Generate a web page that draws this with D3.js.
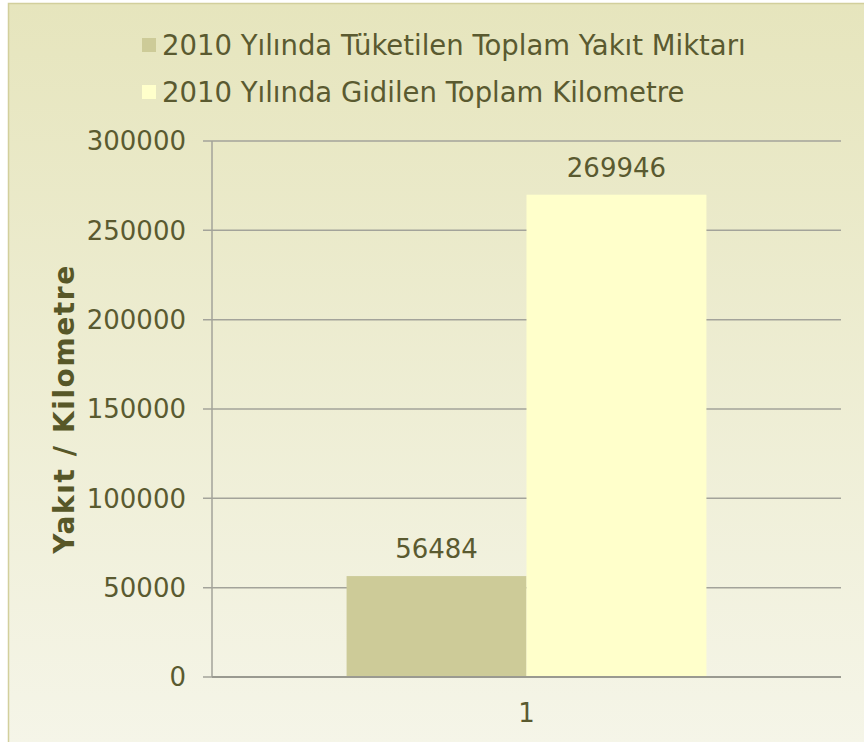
<!DOCTYPE html>
<meta charset="utf-8">
<style>
body { margin: 0; background: #fff; }
text { font-family: "DejaVu Sans", Verdana, sans-serif; fill: #5a5a30; }
.grid line { stroke: #a3a39a; stroke-width: 1.5px; }
</style>
<svg width="864" height="742"></svg>
<script src="https://d3js.org/d3.v7.min.js"></script>
<script>

var categories = ["1"];
var seriesNames = ["2010 Yılında Tüketilen Toplam Yakıt Miktarı", "2010 Yılında Gidilen Toplam Kilometre"];
var seriesColors = ["#cdcb98", "#ffffcb"];
var values = [[56484], [269946]];
var yTicks = [0, 50000, 100000, 150000, 200000, 250000, 300000];

var svg = d3.select("svg"),
    width = +svg.attr("width"),
    height = +svg.attr("height");

// background gradient
var defs = svg.append("defs");
var grad = defs.append("linearGradient")
    .attr("id", "bg")
    .attr("x1", 0).attr("y1", 0).attr("x2", 0).attr("y2", 1);
grad.append("stop").attr("offset", "0%").attr("stop-color", "#e6e5bd");
grad.append("stop").attr("offset", "100%").attr("stop-color", "#f5f5e8");

svg.append("rect")
    .attr("x", 8.5).attr("y", 3.5)
    .attr("width", width).attr("height", height)
    .attr("fill", "url(#bg)")
    .attr("stroke", "#d2cf9c")
    .attr("stroke-width", 1.5);

var margin = {left: 212, right: 864 - 841, top: 141, bottom: 742 - 677};

var x0 = d3.scaleBand()
    .domain(categories)
    .range([margin.left, width - margin.right])
    .paddingInner(0)
    .paddingOuter(0.374);

var x1 = d3.scaleBand()
    .domain(d3.range(seriesNames.length))
    .range([0, x0.bandwidth()]);

var y = d3.scaleLinear()
    .domain([0, 300000])
    .range([height - margin.bottom, margin.top]);

// gridlines
svg.append("g")
    .attr("class", "grid")
  .selectAll("line")
  .data(yTicks)
  .enter().append("line")
    .attr("x1", margin.left - 9)
    .attr("x2", width - margin.right)
    .attr("y1", function(d) { return y(d); })
    .attr("y2", function(d) { return y(d); });

// y axis line
svg.append("line")
    .attr("x1", margin.left).attr("x2", margin.left)
    .attr("y1", y(300000)).attr("y2", y(0))
    .attr("stroke", "#a3a39a").attr("stroke-width", 1.5);

// y tick labels
svg.append("g")
  .selectAll("text")
  .data(yTicks)
  .enter().append("text")
    .attr("x", margin.left - 26)
    .attr("y", function(d) { return y(d); })
    .attr("dy", "0.36em")
    .attr("text-anchor", "end")
    .style("font-size", "26px")
    .text(function(d) { return d; });

// bars
var groups = svg.append("g")
  .selectAll("g")
  .data(categories)
  .enter().append("g")
    .attr("transform", function(d) { return "translate(" + x0(d) + ",0)"; });

groups.selectAll("rect")
  .data(function(d, i) { return values.map(function(v, s) { return {s: s, v: v[i]}; }); })
  .enter().append("rect")
    .attr("x", function(d) { return x1(d.s); })
    .attr("width", x1.bandwidth())
    .attr("y", function(d) { return y(d.v); })
    .attr("height", function(d) { return y(0) - y(d.v); })
    .attr("fill", function(d) { return seriesColors[d.s]; });

groups.selectAll("text.val")
  .data(function(d, i) { return values.map(function(v, s) { return {s: s, v: v[i]}; }); })
  .enter().append("text")
    .attr("class", "val")
    .attr("x", function(d) { return x1(d.s) + x1.bandwidth() / 2; })
    .attr("y", function(d) { return y(d.v) - 18; })
    .attr("text-anchor", "middle")
    .style("font-size", "26px")
    .text(function(d) { return d.v; });

// x axis baseline
svg.append("line")
    .attr("x1", margin.left).attr("x2", width - margin.right)
    .attr("y1", y(0)).attr("y2", y(0))
    .attr("stroke", "#9a9a90").attr("stroke-width", 2);

// category labels
svg.append("g")
  .selectAll("text")
  .data(categories)
  .enter().append("text")
    .attr("x", function(d) { return x0(d) + x0.bandwidth() / 2; })
    .attr("y", y(0) + 36)
    .attr("dy", "0.36em")
    .attr("text-anchor", "middle")
    .style("font-size", "26px")
    .text(function(d) { return d; });

// y axis title
svg.append("text")
    .attr("transform", "translate(74," + ((y(0) + y(300000)) / 2) + ") rotate(-90)")
    .attr("text-anchor", "middle")
    .style("font-size", "28px")
    .style("font-weight", "bold")
    .style("letter-spacing", "1.6px")
    .style("fill", "#575728")
    .text("Yakıt / Kilometre");

// legend
var legend = svg.append("g")
  .selectAll("g")
  .data(seriesNames)
  .enter().append("g")
    .attr("transform", function(d, i) { return "translate(142," + (45 + i * 47) + ")"; });

legend.append("rect")
    .attr("x", 0).attr("y", -7)
    .attr("width", 14).attr("height", 14)
    .attr("fill", function(d, i) { return seriesColors[i]; });

legend.append("text")
    .attr("x", 20)
    .attr("y", 0)
    .attr("dy", "0.36em")
    .style("font-size", "27.5px")
    .text(function(d) { return d; });

</script>
